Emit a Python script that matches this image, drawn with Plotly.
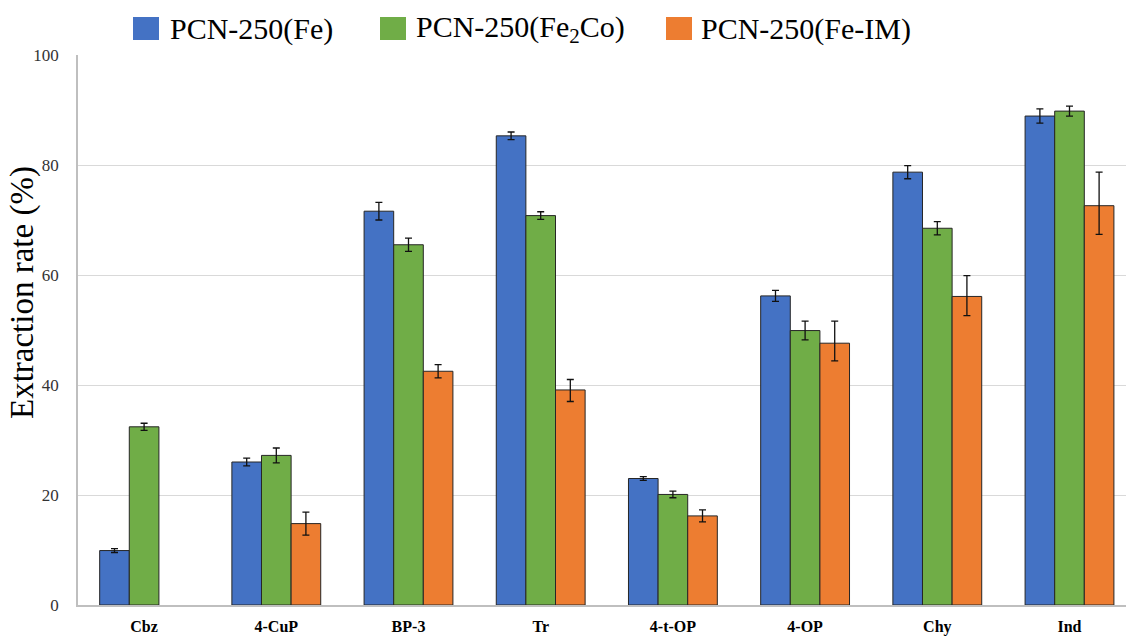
import plotly.graph_objects as go

# Analytes on the x axis
categories = ["Cbz", "4-CuP", "BP-3", "Tr", "4-t-OP", "4-OP", "Chy", "Ind"]

# Extraction rate (%) for each adsorbent
fe_values = [9.9, 26.0, 71.6, 85.3, 23.0, 56.2, 78.7, 88.9]
fe2co_values = [32.4, 27.2, 65.5, 70.8, 20.1, 49.9, 68.5, 89.8]
feim_values = [None, 14.8, 42.5, 39.1, 16.2, 47.6, 56.1, 72.6]

# Error bar extents (upper / lower)
fe_err_plus = [0.35, 0.7, 1.6, 0.7, 0.35, 1.0, 1.2, 1.3]
fe_err_minus = [0.35, 0.7, 1.6, 0.7, 0.35, 1.0, 1.2, 1.3]
fe2co_err_plus = [0.65, 1.35, 1.2, 0.7, 0.6, 1.7, 1.2, 0.9]
fe2co_err_minus = [0.65, 1.35, 1.2, 0.7, 0.6, 1.7, 1.2, 0.9]
feim_err_plus = [None, 2.1, 1.2, 1.9, 1.1, 4.0, 3.8, 6.1]
feim_err_minus = [None, 2.1, 1.2, 2.1, 1.1, 3.2, 3.5, 5.2]

series_names = ["PCN-250(Fe)", "PCN-250(Fe<sub>2</sub>Co)", "PCN-250(Fe-IM)"]
colors = ["#4472C4", "#70AD47", "#ED7D31"]

y_ticks = [0, 20, 40, 60, 80, 100]

SERIF = "Liberation Serif, Times New Roman, serif"

W, H = 1126, 637
ML, MR, MT, MB = 78, 0, 55, 32
PW, PH = W - ML - MR, H - MT - MB


def px_x(px):
    return (px - ML) / PW


def px_y(py):
    return (H - MB - py) / PH


fig = go.Figure()
series = [
    (fe_values, fe_err_plus, fe_err_minus),
    (fe2co_values, fe2co_err_plus, fe2co_err_minus),
    (feim_values, feim_err_plus, feim_err_minus),
]
for (vals, ep, em), name, col in zip(series, series_names, colors):
    fig.add_trace(go.Bar(
        x=categories, y=vals, name=name,
        marker=dict(color=col, line=dict(color="#262626", width=1)),
        error_y=dict(type="data", array=ep, arrayminus=em, symmetric=False,
                     color="#111111", thickness=1.3, width=3.5),
        showlegend=False,
    ))

# Legend drawn as coloured boxes with labels along the top
legend_items = [(133, 168), (380, 414), (666, 699)]
for (sq_x, tx_x), name, col in zip(legend_items, series_names, colors):
    fig.add_shape(type="rect", xref="paper", yref="paper",
                  x0=px_x(sq_x), x1=px_x(sq_x + 26),
                  y0=px_y(40), y1=px_y(17),
                  fillcolor=col, line=dict(width=0))
    fig.add_annotation(text=name, xref="paper", yref="paper",
                       x=px_x(tx_x), y=px_y(29), xanchor="left", yanchor="middle",
                       showarrow=False,
                       font=dict(family=SERIF, size=30, color="#000000"))

# Y axis title
fig.add_annotation(text="Extraction rate (%)", xref="paper", yref="paper",
                   x=px_x(22), y=px_y(293), xanchor="center", yanchor="middle",
                   textangle=-90, showarrow=False,
                   font=dict(family=SERIF, size=33, color="#000000"))

fig.update_layout(
    width=W, height=H,
    margin=dict(l=ML, r=MR, t=MT, b=MB, autoexpand=False),
    paper_bgcolor="white", plot_bgcolor="white",
    barmode="group", bargap=0.328, bargroupgap=0,
    xaxis=dict(
        type="category", range=[-0.5, -0.5 + PW / 132.2],
        automargin=False,
        showline=True, linecolor="#bfbfbf", linewidth=1.5,
        showgrid=False, ticks="",
        tickfont=dict(family=SERIF, size=16, color="#000000", weight="bold"),
        ticklabelstandoff=6,
    ),
    yaxis=dict(
        range=[0, 100], tickvals=y_ticks,
        automargin=False,
        showline=True, linecolor="#bfbfbf", linewidth=1.5,
        showgrid=True, gridcolor="#d9d9d9", gridwidth=1.2,
        zeroline=False, ticks="",
        tickfont=dict(family=SERIF, size=17, color="#333333"),
        ticklabelstandoff=14,
    ),
)

fig.write_html("out.html")
